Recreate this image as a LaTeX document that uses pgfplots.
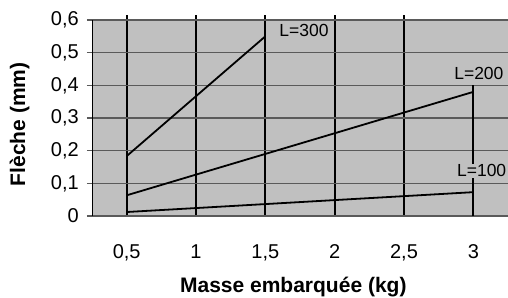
\documentclass[border=0pt]{standalone}
\usepackage{pgfplots}
\pgfplotsset{compat=1.18}
\usepackage{fontspec}
\setmainfont{Liberation Sans}
\definecolor{plotgray}{RGB}{192,192,192}
\definecolor{gridgray}{RGB}{90,90,90}
\begin{document}
\begin{tikzpicture}
\begin{axis}[
  width=416bp, height=196bp, scale only axis,
  xmin=0.25, xmax=3.25, ymin=0, ymax=0.6,
  axis background/.style={fill=plotgray},
  separate axis lines,
  x axis line style={gridgray, line width=1.4bp},
  y axis line style={black, line width=0.8bp},
  xtick={0.5,1,1.5,2,2.5},
  extra x ticks={3},
  extra x tick style={grid=none, tick style={draw=none}},
  extra x tick labels={3},
  xticklabels={{0,5},{1},{1,5},{2},{2,5}},
  ytick={0,0.1,0.2,0.3,0.4,0.5,0.6},
  yticklabels={{0},{0,1},{0,2},{0,3},{0,4},{0,5},{0,6}},
  xtick pos=upper, xticklabel pos=lower,
  ytick pos=left,
  tick align=outside,
  major tick length=5bp,
  xtick style={black, line width=1.8bp},
  ytick style={gridgray, line width=1.1bp},
  xmajorgrids, ymajorgrids,
  x grid style={black, line width=1.8bp},
  y grid style={gridgray, line width=1.1bp},
  tick label style={font=\fontsize{20bp}{23bp}\selectfont},
  xticklabel style={anchor=base, yshift=-37bp},
  yticklabel style={anchor=east, inner sep=0pt, xshift=-8bp},
  xlabel={\bfseries Masse embarquée (kg)},
  xlabel style={at={(axis description cs:0.484,0)}, anchor=base, yshift=-76bp, font=\fontsize{21bp}{25bp}\selectfont},
  ylabel={\bfseries Flèche (mm)},
  ylabel style={at={(axis description cs:-0.174,0.467)}, anchor=center, font=\fontsize{21bp}{25bp}\selectfont},
  clip=false,
]
\draw[black, line width=1.8bp] (axis cs:3,0) -- (axis cs:3,0.4);
\addplot[black, line width=1.8bp, mark=none] coordinates {(0.5,0.1833) (1,0.3667) (1.5,0.55)};
\addplot[black, line width=1.8bp, mark=none] coordinates {(0.5,0.0633) (1,0.1267) (1.5,0.19) (2,0.2533) (2.5,0.3167) (3,0.38)};
\addplot[black, line width=1.8bp, mark=none] coordinates {(0.5,0.0122) (1,0.0243) (1.5,0.0365) (2,0.0487) (2.5,0.0608) (3,0.073)};
\node[fill=plotgray, inner sep=1bp, font=\fontsize{17.5bp}{20bp}\selectfont] at (axis cs:1.779,0.569) {L=300};
\node[fill=plotgray, inner sep=1bp, font=\fontsize{17.5bp}{20bp}\selectfont] at (axis cs:3.04,0.437) {L=200};
\node[fill=plotgray, inner sep=1bp, font=\fontsize{17.5bp}{20bp}\selectfont] at (axis cs:3.06,0.138) {L=100};
\end{axis}
\pgfresetboundingbox
\useasboundingbox (-92bp,-82bp) rectangle (416bp,216bp);
\end{tikzpicture}
\end{document}
